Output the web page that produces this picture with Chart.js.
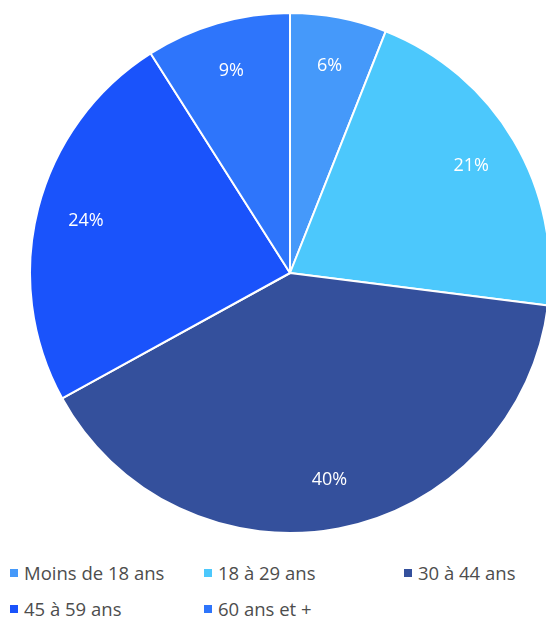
<!DOCTYPE html>
<html lang="fr">
<head>
<meta charset="utf-8">
<script src="https://cdn.jsdelivr.net/npm/chart.js@4/dist/chart.umd.min.js"></script>
<style>
  html, body { margin: 0; padding: 0; background: #fff; }
  body { width: 546px; height: 623px; overflow: hidden; position: relative; font-family: "Open Sans", sans-serif; }
  #wrap { position: absolute; left: 29px; top: 12px; width: 522px; height: 522px; }
  #legend { position: absolute; left: 0; top: 560px; width: 546px; }
  .item { position: absolute; display: flex; align-items: center; font-size: 18.5px; color: #4d4d4d; white-space: nowrap; }
  .sw { width: 8px; height: 8px; margin-right: 6px; }
</style>
</head>
<body>
<div id="wrap"><canvas id="c"></canvas></div>
<div id="legend"></div>
<script>
// Répartition par tranche d'âge (%)
const categories = ["Moins de 18 ans", "18 à 29 ans", "30 à 44 ans", "45 à 59 ans", "60 ans et +"];
const values = [6, 21, 40, 24, 9];
const colors = ["#4599FA", "#4CC8FC", "#34509C", "#1A53FB", "#2E75FB"];

// Legend grid: column x, row y
const legendCols = [10, 204, 404];
const legendRows = [0, 36];

// White percentage labels placed inside each slice
const sliceLabels = {
  id: "sliceLabels",
  afterDatasetsDraw(chart) {
    const ctx = chart.ctx;
    const meta = chart.getDatasetMeta(0);
    ctx.save();
    ctx.fillStyle = "#fff";
    ctx.font = "18px 'Open Sans', sans-serif";
    ctx.textAlign = "center";
    ctx.textBaseline = "middle";
    meta.data.forEach((arc, i) => {
      const p = arc.getProps(["x", "y", "startAngle", "endAngle", "outerRadius"], true);
      const mid = (p.startAngle + p.endAngle) / 2;
      const r = p.outerRadius * 0.81;
      ctx.fillText(values[i] + "%", p.x + Math.cos(mid) * r, p.y + Math.sin(mid) * r);
    });
    ctx.restore();
  }
};

new Chart(document.getElementById("c"), {
  type: "pie",
  data: {
    labels: categories,
    datasets: [{
      data: values,
      backgroundColor: colors,
      borderColor: "#fff",
      borderWidth: 2,
      hoverOffset: 0
    }]
  },
  options: {
    responsive: true,
    maintainAspectRatio: false,
    animation: false,
    layout: { padding: 0 },
    plugins: { legend: { display: false }, tooltip: { enabled: false } }
  },
  plugins: [sliceLabels]
});

const legend = document.getElementById("legend");
categories.forEach((name, i) => {
  const el = document.createElement("div");
  el.className = "item";
  el.style.left = legendCols[i % 3] + "px";
  el.style.top = legendRows[Math.floor(i / 3)] + "px";
  const sw = document.createElement("span");
  sw.className = "sw";
  sw.style.background = colors[i];
  el.appendChild(sw);
  el.appendChild(document.createTextNode(name));
  legend.appendChild(el);
});
</script>
</body>
</html>
